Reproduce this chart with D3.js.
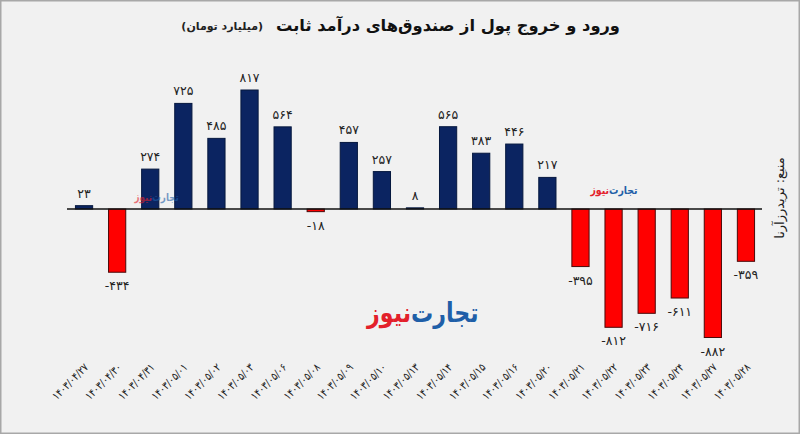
<!DOCTYPE html>
<html><head><meta charset="utf-8">
<script src="https://cdn.jsdelivr.net/npm/d3@7"></script>
<style>
html,body{margin:0;padding:0;background:#f1f1f1;}
svg{display:block;font-family:"DejaVu Sans",sans-serif;}
</style></head>
<body>
<svg id="chart" width="800" height="434"></svg>
<script>
const categories = ["۱۴۰۳/۰۴/۲۷","۱۴۰۳/۰۴/۳۰","۱۴۰۳/۰۴/۳۱","۱۴۰۳/۰۵/۰۱","۱۴۰۳/۰۵/۰۲","۱۴۰۳/۰۵/۰۳","۱۴۰۳/۰۵/۰۶","۱۴۰۳/۰۵/۰۸","۱۴۰۳/۰۵/۰۹","۱۴۰۳/۰۵/۱۰","۱۴۰۳/۰۵/۱۳","۱۴۰۳/۰۵/۱۴","۱۴۰۳/۰۵/۱۵","۱۴۰۳/۰۵/۱۶","۱۴۰۳/۰۵/۲۰","۱۴۰۳/۰۵/۲۱","۱۴۰۳/۰۵/۲۲","۱۴۰۳/۰۵/۲۳","۱۴۰۳/۰۵/۲۴","۱۴۰۳/۰۵/۲۷","۱۴۰۳/۰۵/۲۸"];
const values = [23,-434,274,725,485,817,564,-18,457,257,8,565,383,446,217,-395,-812,-716,-611,-882,-359];
const title = "ورود و خروج پول از صندوق‌های درآمد ثابت";
const subtitle = "(میلیارد تومان)";
const source = "منبع: تریدرزآرنا";
const logoA = "تجارت";
const logoB = "نیوز";

const faDigits = "۰۱۲۳۴۵۶۷۸۹";
const toFa = n => String(n).replace(/\d/g, d => faDigits[+d]);

const svg = d3.select("#chart");
const W = 800, H = 434;
svg.append("rect").attr("x",0.5).attr("y",0.5).attr("width",W-1).attr("height",H-1)
  .attr("fill","#f1f1f1").attr("stroke","#a8a8a8").attr("stroke-width",2);

const x = d3.scaleBand().domain(categories).range([67.5,762.5]).paddingInner(0.48).paddingOuter(0.24);
const y = d3.scaleLinear().domain([-882,817]).range([337.5,90]);

function logo(cx, cy, size, op, sx){
  const g = svg.append("g").attr("opacity",op).attr("font-weight","bold").attr("font-size",size)
    .attr("transform",`translate(${cx},${cy}) scale(${sx},1)`);
  g.append("text").attr("x",0).attr("y",0).attr("text-anchor","start").attr("fill","#1f5fa8").text(logoA);
  g.append("text").attr("x",0).attr("y",0).attr("text-anchor","end").attr("fill","#e3202a").text(logoB);
}
logo(411, 322, 27, 1, 0.82);

// bars
svg.append("g").selectAll("rect").data(values).join("rect")
  .attr("x",(d,i)=>x(categories[i]))
  .attr("width",x.bandwidth())
  .attr("y",d=>y(Math.max(0,d)))
  .attr("height",d=>Math.abs(y(d)-y(0)))
  .attr("fill",d=>d>=0?"#0b2461":"#ff0000")
  .attr("stroke",d=>d>=0?"#06183f":"#4a0a0a")
  .attr("stroke-width",1);

logo(609, 194, 11, 1, 0.85);
logo(152, 201, 11, 0.6, 0.8);

// zero line
svg.append("line").attr("x1",67).attr("x2",762).attr("y1",y(0)).attr("y2",y(0))
  .attr("stroke","#111").attr("stroke-width",1.3);

// value labels
svg.append("g").selectAll("text").data(values).join("text")
  .attr("x",(d,i)=>x(categories[i])+x.bandwidth()/2)
  .attr("y",d=>d>=0?y(d)-8:y(d)+18)
  .attr("text-anchor","middle").attr("direction","ltr")
  .attr("font-size",12.5).attr("fill","#222")
  .text(d=>toFa(d));

// x axis labels
const xAxis = d3.axisBottom(x).tickSize(0).tickFormat(d=>d);
const ax = svg.append("g").call(xAxis);
ax.select(".domain").remove();
ax.selectAll(".tick text")
  .attr("font-family","DejaVu Sans").attr("font-size",11).attr("fill","#222")
  .attr("direction","ltr")
  .attr("text-anchor","end").attr("dy",0).attr("y",0)
  .attr("transform","translate(5,368) rotate(-45) scale(0.84,1)");

// title
svg.append("text").attr("x",620).attr("y",31).attr("text-anchor","end")
  .attr("font-size",16.3).attr("font-weight","bold").attr("fill","#111").text(title);
svg.append("text").attr("x",263).attr("y",30).attr("text-anchor","end")
  .attr("font-size",11).attr("font-weight","bold").attr("fill","#222").text(subtitle);

// source
svg.append("text").attr("transform","translate(784,198) rotate(-90)")
  .attr("text-anchor","middle").attr("font-size",13).attr("fill","#222").text(source);
</script>
</body></html>
